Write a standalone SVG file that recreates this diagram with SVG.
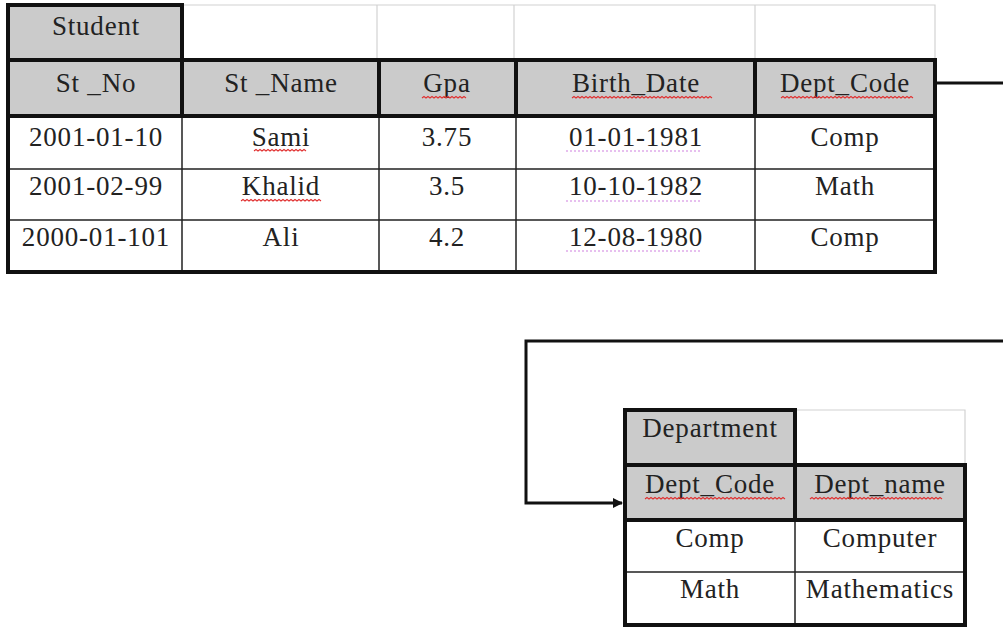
<svg xmlns="http://www.w3.org/2000/svg" width="1003" height="628" viewBox="0 0 1003 628">
<defs>
<style>
.t{font-family:"Liberation Serif","Times New Roman",serif;font-size:27px;fill:#222;text-anchor:middle;letter-spacing:0.8px}
.hd{fill:#cbcbcb}
.thick{fill:none;stroke:#111;stroke-width:4}
.thin{fill:none;stroke:#222;stroke-width:1.5}
.light{fill:none;stroke:#d2d2d2;stroke-width:1.2}
.sq{fill:none;stroke:#e03030;stroke-width:1.1}
.sqp{fill:none;stroke:#d080e0;stroke-width:1.1;stroke-dasharray:2 2}
.conn{fill:none;stroke:#111;stroke-width:3}
</style>
<marker id="arr" markerWidth="10" markerHeight="10" refX="9" refY="5" orient="auto" markerUnits="userSpaceOnUse">
<path d="M0,0 L10,5 L0,10 Z" fill="#111"/>
</marker>
</defs>
<rect width="1003" height="628" fill="#fff"/>

<g id="student">
<!-- light top row -->
<path class="light" d="M182,5 H935 V60 M377,5 V60 M514,5 V60 M755,5 V60"/>
<!-- Student title cell -->
<rect class="hd" x="8" y="5" width="174" height="55"/>
<rect class="thick" x="8" y="5" width="174" height="55"/>
<text class="t" x="96" y="35" font-size="24">Student</text>
<!-- header row -->
<rect class="hd" x="8" y="60" width="927" height="56"/>
<path class="thin" d="M8,169 H935 M8,220 H935 M182,116 V272 M379,116 V272 M516,116 V272 M755,116 V272"/>
<path class="thick" d="M182,60 V116 M379,60 V116 M516,60 V116 M755,60 V116 M8,116 H935"/>
<rect class="thick" x="8" y="60" width="927" height="212"/>
<text class="t" x="96" y="92">St _No</text>
<text class="t" x="281" y="92">St _Name</text>
<text class="t" x="447" y="92">Gpa</text>
<text class="t" x="636" y="92">Birth_Date</text>
<text class="t" x="845" y="92">Dept_Code</text>
<text class="t" x="96" y="146">2001-01-10</text>
<text class="t" x="281" y="146">Sami</text>
<text class="t" x="447" y="146">3.75</text>
<text class="t" x="636" y="146">01-01-1981</text>
<text class="t" x="845" y="146">Comp</text>
<text class="t" x="96" y="195">2001-02-99</text>
<text class="t" x="281" y="195">Khalid</text>
<text class="t" x="447" y="195">3.5</text>
<text class="t" x="636" y="195">10-10-1982</text>
<text class="t" x="845" y="195">Math</text>
<text class="t" x="96" y="246">2000-01-101</text>
<text class="t" x="281" y="246">Ali</text>
<text class="t" x="447" y="246">4.2</text>
<text class="t" x="636" y="246">12-08-1980</text>
<text class="t" x="845" y="246">Comp</text>
<!-- spell-check underlines -->
<path class="sq" d="M422,98 l2,-1.5 l2,1.5 l2,-1.5 l2,1.5 l2,-1.5 l2,1.5 l2,-1.5 l2,1.5 l2,-1.5 l2,1.5 l2,-1.5 l2,1.5 l2,-1.5 l2,1.5 l2,-1.5 l2,1.5 l2,-1.5 l2,1.5 l2,-1.5 l2,1.5 l2,-1.5 l2,1.5"/>
<path class="sq" d="M572,98 l2,-1.5 l2,1.5 l2,-1.5 l2,1.5 l2,-1.5 l2,1.5 l2,-1.5 l2,1.5 l2,-1.5 l2,1.5 l2,-1.5 l2,1.5 l2,-1.5 l2,1.5 l2,-1.5 l2,1.5 l2,-1.5 l2,1.5 l2,-1.5 l2,1.5 l2,-1.5 l2,1.5 l2,-1.5 l2,1.5 l2,-1.5 l2,1.5 l2,-1.5 l2,1.5 l2,-1.5 l2,1.5 l2,-1.5 l2,1.5 l2,-1.5 l2,1.5 l2,-1.5 l2,1.5 l2,-1.5 l2,1.5 l2,-1.5 l2,1.5 l2,-1.5 l2,1.5 l2,-1.5 l2,1.5 l2,-1.5 l2,1.5 l2,-1.5 l2,1.5 l2,-1.5 l2,1.5 l2,-1.5 l2,1.5 l2,-1.5 l2,1.5 l2,-1.5 l2,1.5 l2,-1.5 l2,1.5 l2,-1.5 l2,1.5 l2,-1.5 l2,1.5 l2,-1.5 l2,1.5 l2,-1.5 l2,1.5 l2,-1.5 l2,1.5 l2,-1.5 l2,1.5"/>
<path class="sq" d="M781,98 l2,-1.5 l2,1.5 l2,-1.5 l2,1.5 l2,-1.5 l2,1.5 l2,-1.5 l2,1.5 l2,-1.5 l2,1.5 l2,-1.5 l2,1.5 l2,-1.5 l2,1.5 l2,-1.5 l2,1.5 l2,-1.5 l2,1.5 l2,-1.5 l2,1.5 l2,-1.5 l2,1.5 l2,-1.5 l2,1.5 l2,-1.5 l2,1.5 l2,-1.5 l2,1.5 l2,-1.5 l2,1.5 l2,-1.5 l2,1.5 l2,-1.5 l2,1.5 l2,-1.5 l2,1.5 l2,-1.5 l2,1.5 l2,-1.5 l2,1.5 l2,-1.5 l2,1.5 l2,-1.5 l2,1.5 l2,-1.5 l2,1.5 l2,-1.5 l2,1.5 l2,-1.5 l2,1.5 l2,-1.5 l2,1.5 l2,-1.5 l2,1.5 l2,-1.5 l2,1.5 l2,-1.5 l2,1.5 l2,-1.5 l2,1.5 l2,-1.5 l2,1.5 l2,-1.5 l2,1.5 l2,-1.5 l2,1.5"/>
<path class="sq" d="M254,151 l2,-1.5 l2,1.5 l2,-1.5 l2,1.5 l2,-1.5 l2,1.5 l2,-1.5 l2,1.5 l2,-1.5 l2,1.5 l2,-1.5 l2,1.5 l2,-1.5 l2,1.5 l2,-1.5 l2,1.5 l2,-1.5 l2,1.5 l2,-1.5 l2,1.5 l2,-1.5 l2,1.5 l2,-1.5 l2,1.5 l2,-1.5 l2,1.5"/>
<path class="sq" d="M241,201 l2,-1.5 l2,1.5 l2,-1.5 l2,1.5 l2,-1.5 l2,1.5 l2,-1.5 l2,1.5 l2,-1.5 l2,1.5 l2,-1.5 l2,1.5 l2,-1.5 l2,1.5 l2,-1.5 l2,1.5 l2,-1.5 l2,1.5 l2,-1.5 l2,1.5 l2,-1.5 l2,1.5 l2,-1.5 l2,1.5 l2,-1.5 l2,1.5 l2,-1.5 l2,1.5 l2,-1.5 l2,1.5 l2,-1.5 l2,1.5 l2,-1.5 l2,1.5 l2,-1.5 l2,1.5 l2,-1.5 l2,1.5 l2,-1.5 l2,1.5"/>
<path class="sqp" d="M566,151 H702 M566,201 H702 M566,251 H702"/>
</g>

<g id="department">
<path class="light" d="M795,410 H965 V465"/>
<rect class="hd" x="625" y="410" width="170" height="55"/>
<rect class="thick" x="625" y="410" width="170" height="55"/>
<text class="t" x="710" y="437" font-size="24">Department</text>
<rect class="hd" x="625" y="465" width="340" height="55"/>
<path class="thin" d="M625,572 H965 M795,520 V625"/>
<path class="thick" d="M795,465 V520 M625,520 H965"/>
<rect class="thick" x="625" y="465" width="340" height="160"/>
<text class="t" x="710" y="493">Dept_Code</text>
<text class="t" x="880" y="493">Dept_name</text>
<text class="t" x="710" y="547">Comp</text>
<text class="t" x="880" y="547">Computer</text>
<text class="t" x="710" y="598">Math</text>
<text class="t" x="880" y="598">Mathematics</text>
<path class="sq" d="M645,499 l2,-1.5 l2,1.5 l2,-1.5 l2,1.5 l2,-1.5 l2,1.5 l2,-1.5 l2,1.5 l2,-1.5 l2,1.5 l2,-1.5 l2,1.5 l2,-1.5 l2,1.5 l2,-1.5 l2,1.5 l2,-1.5 l2,1.5 l2,-1.5 l2,1.5 l2,-1.5 l2,1.5 l2,-1.5 l2,1.5 l2,-1.5 l2,1.5 l2,-1.5 l2,1.5 l2,-1.5 l2,1.5 l2,-1.5 l2,1.5 l2,-1.5 l2,1.5 l2,-1.5 l2,1.5 l2,-1.5 l2,1.5 l2,-1.5 l2,1.5 l2,-1.5 l2,1.5 l2,-1.5 l2,1.5 l2,-1.5 l2,1.5 l2,-1.5 l2,1.5 l2,-1.5 l2,1.5 l2,-1.5 l2,1.5 l2,-1.5 l2,1.5 l2,-1.5 l2,1.5 l2,-1.5 l2,1.5 l2,-1.5 l2,1.5 l2,-1.5 l2,1.5 l2,-1.5 l2,1.5 l2,-1.5 l2,1.5 l2,-1.5 l2,1.5 l2,-1.5 l2,1.5"/>
<path class="sq" d="M810,499 l2,-1.5 l2,1.5 l2,-1.5 l2,1.5 l2,-1.5 l2,1.5 l2,-1.5 l2,1.5 l2,-1.5 l2,1.5 l2,-1.5 l2,1.5 l2,-1.5 l2,1.5 l2,-1.5 l2,1.5 l2,-1.5 l2,1.5 l2,-1.5 l2,1.5 l2,-1.5 l2,1.5 l2,-1.5 l2,1.5 l2,-1.5 l2,1.5 l2,-1.5 l2,1.5 l2,-1.5 l2,1.5 l2,-1.5 l2,1.5 l2,-1.5 l2,1.5 l2,-1.5 l2,1.5 l2,-1.5 l2,1.5 l2,-1.5 l2,1.5 l2,-1.5 l2,1.5 l2,-1.5 l2,1.5 l2,-1.5 l2,1.5 l2,-1.5 l2,1.5 l2,-1.5 l2,1.5 l2,-1.5 l2,1.5 l2,-1.5 l2,1.5 l2,-1.5 l2,1.5 l2,-1.5 l2,1.5 l2,-1.5 l2,1.5 l2,-1.5 l2,1.5 l2,-1.5 l2,1.5 l2,-1.5 l2,1.5"/>
</g>

<g id="connectors">
<path class="conn" d="M937,83 H1003"/>
<path class="conn" d="M1003,341 H526 V503 H622" marker-end="url(#arr)"/>
</g>
</svg>
